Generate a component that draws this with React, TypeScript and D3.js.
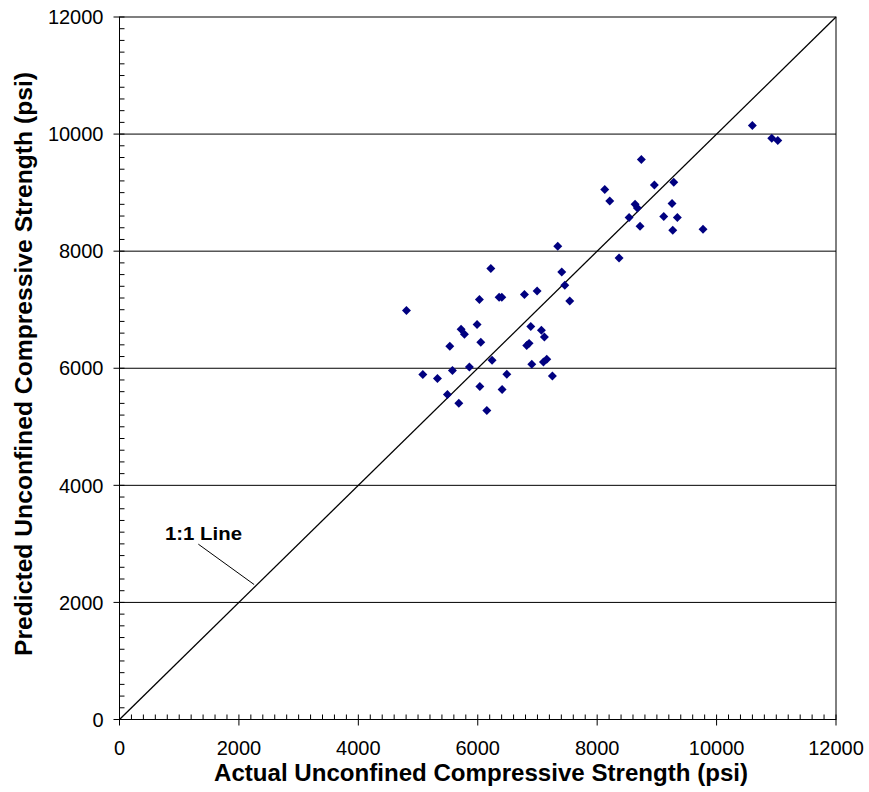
import React from 'react'
import * as d3 from 'd3'

// Actual vs predicted unconfined compressive strength (psi)
const actual = [
  7340, 6219, 7407, 7458, 7541, 4806, 6028, 6358, 6403, 6782,
  6994, 5989, 5721, 5777, 6051, 5532, 6888, 7066, 7116, 6820,
  6860, 6240, 5860, 6905, 7100, 7156, 5080, 5325, 5576, 6487,
  7250, 6035, 6408, 5492, 5683, 6152, 10599, 10924, 11025, 8740,
  8127, 8211, 8958, 9283, 8635, 8673, 9254, 8535, 9115, 9343,
  8718, 9266, 9773, 8367
]
const predicted = [
  8084, 7703, 7645, 7418, 7150, 6986, 7174, 7213, 7213, 7259,
  7321, 6747, 6667, 6581, 6444, 6376, 6712, 6649, 6535, 6390,
  6425, 6137, 6023, 6068, 6108, 6154, 5893, 5824, 5961, 5898,
  5869, 5688, 5636, 5551, 5402, 5278, 10146, 9929, 9889, 9565,
  9052, 8858, 9131, 9177, 8801, 8738, 8813, 8574, 8591, 8574,
  8426, 8357, 8374, 7884
]
const xTicks = [0, 2000, 4000, 6000, 8000, 10000, 12000]
const yTicks = [0, 2000, 4000, 6000, 8000, 10000, 12000]
const lineLabel = '1:1 Line'
const labelLeader = [[1320, 2995], [2255, 2305]]

const W = 869
const H = 792

export default function App() {
  const x = d3.scaleLinear().domain([0, 12000]).range([119.5, 836])
  const y = d3.scaleLinear().domain([0, 12000]).range([719.5, 17])
  const minor = d3.range(200, 12000, 200).filter(v => v % 2000 !== 0)
  const diamond = d3.symbol(d3.symbolSquare, 40)()
  const font = 'Arial, "Liberation Sans", sans-serif'

  return (
    <svg width={W} height={H} style={{ position: 'absolute', left: 0, top: 0, background: '#fff' }}
      fontFamily={font}>
      {/* plot frame + grid */}
      <rect x={x(0)} y={y(12000)} width={x(12000) - x(0)} height={y(0) - y(12000)}
        fill="none" stroke="#000" strokeWidth={1} />
      {yTicks.filter(v => v > 0 && v < 12000).map(v => (
        <line key={'g' + v} x1={x(0)} x2={x(12000)} y1={y(v)} y2={y(v)} stroke="#000" strokeWidth={1} />
      ))}

      {/* y axis ticks */}
      {minor.map(v => (
        <line key={'ym' + v} x1={x(0)} x2={x(0) + 5} y1={y(v)} y2={y(v)} stroke="#000" />
      ))}
      {yTicks.map(v => (
        <g key={'yt' + v}>
          <line x1={x(0) - 6} x2={x(0) + 5} y1={y(v)} y2={y(v)} stroke="#000" />
          <text x={x(0) - 16} y={y(v)} dy="0.36em" textAnchor="end" fontSize={20}>{v}</text>
        </g>
      ))}

      {/* x axis ticks */}
      {minor.map(v => (
        <line key={'xm' + v} x1={x(v)} x2={x(v)} y1={y(0)} y2={y(0) - 5} stroke="#000" />
      ))}
      {xTicks.map(v => (
        <g key={'xt' + v}>
          <line x1={x(v)} x2={x(v)} y1={y(0) + 6} y2={y(0) - 5} stroke="#000" />
          <text x={x(v)} y={755} textAnchor="middle" fontSize={20}>{v}</text>
        </g>
      ))}

      {/* 1:1 line */}
      <line x1={x(0)} y1={y(0)} x2={x(12000)} y2={y(12000)} stroke="#000" strokeWidth={1.3} />
      <line x1={x(labelLeader[0][0])} y1={y(labelLeader[0][1])} x2={x(labelLeader[1][0])} y2={y(labelLeader[1][1])}
        stroke="#000" strokeWidth={1} />
      <text x={165} y={540} fontSize={18} fontWeight="bold" textLength={77} lengthAdjust="spacingAndGlyphs">
        {lineLabel}
      </text>

      {/* points */}
      {actual.map((a, i) => (
        <path key={'p' + i} d={diamond ?? ''} fill="#000080"
          transform={`translate(${x(a)},${y(predicted[i])}) rotate(45)`} />
      ))}

      {/* axis titles */}
      <text x={481} y={781} textAnchor="middle" fontSize={23} fontWeight="bold"
        textLength={534} lengthAdjust="spacingAndGlyphs">
        Actual Unconfined Compressive Strength (psi)
      </text>
      <text transform="translate(32,364) rotate(-90)" textAnchor="middle"
        fontSize={23} fontWeight="bold" textLength={584} lengthAdjust="spacingAndGlyphs">
        Predicted Unconfined Compressive Strength (psi)
      </text>
    </svg>
  )
}
